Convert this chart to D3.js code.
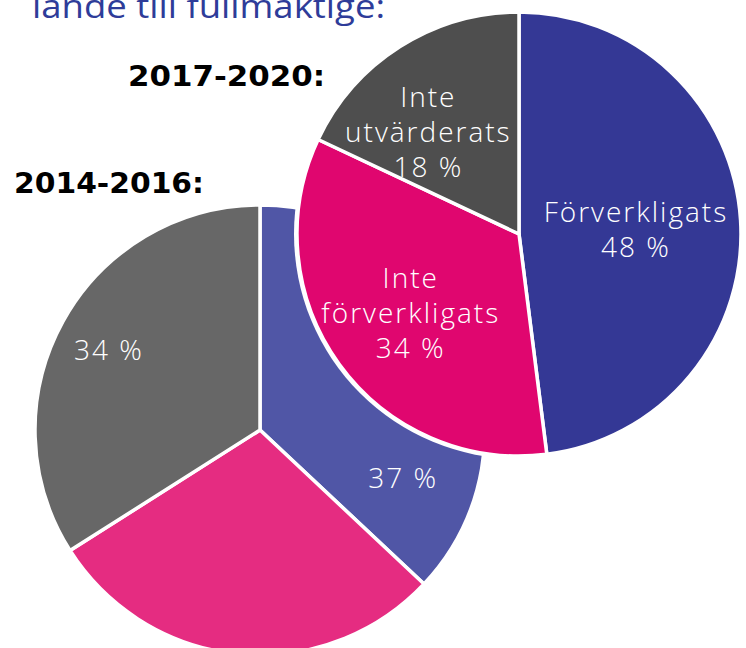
<!DOCTYPE html>
<html>
<head>
<meta charset="utf-8">
<script src="https://cdn.jsdelivr.net/npm/d3@7"></script>
<style>
  body { margin: 0; background: #fff; }
  svg { display: block; }
  text { font-family: "Open Sans", "Noto Sans", sans-serif; }
</style>
</head>
<body>
<svg id="chart"></svg>
<script>
// Data
var categories = ["Förverkligats", "Inte förverkligats", "Inte utvärderats"]
var values2014 = [37, 29, 34]
var values2017 = [48, 34, 18]
// which slices carry a label (2014-2016 only shows the percentages of two slices)
var labels2014 = [["37 %"], [], ["34 %"]]
var labels2017 = [["Förverkligats", "48 %"], ["Inte", "förverkligats", "34 %"], ["Inte", "utvärderats", "18 %"]]

var width = 746
var height = 648

var colors2014 = ["#5056a6", "#e52c81", "#676767"]
var colors2017 = ["#343895", "#e0066f", "#4e4e4e"]

// label spot per slice: [angle in degrees clockwise from top, distance from centre]
var spots2014 = [[108.7, 150], [187, 160], [297.8, 172]]
var spots2017 = [[88, 116], [234, 135], [318, 137]]

var svg = d3.select("#chart").attr("width", width).attr("height", height)

var pie = d3.pie().sort(null).value(d => d)

function drawPie(values, colors, labels, spots, cx, cy, r, ring) {
  var g = svg.append("g").attr("transform", `translate(${cx},${cy})`)
  var arc = d3.arc().innerRadius(0).outerRadius(r)

  if (ring) {
    g.append("circle").attr("r", r + 3).attr("fill", "#fff")
  }

  g.selectAll("path")
    .data(pie(values))
    .enter().append("path")
    .attr("d", arc)
    .attr("fill", (d, i) => colors[i])
    .attr("stroke", "#fff")
    .attr("stroke-width", 3.5)
    .attr("stroke-linejoin", "round")

  var lineH = 35
  g.selectAll(".lbl")
    .data(labels)
    .enter().append("text")
    .attr("class", "lbl")
    .attr("transform", (d, i) => {
      var p = d3.pointRadial(spots[i][0] * Math.PI / 180, spots[i][1])
      return `translate(${p[0] + 1},${p[1]})`
    })
    .attr("text-anchor", "middle")
    .attr("fill", "#fff")
    .attr("font-size", "28px")
    .attr("font-weight", 300)
    .attr("letter-spacing", "2px")
    .each(function(lines) {
      var t = d3.select(this)
      var y0 = -(lines.length - 1) * lineH / 2 + 10
      lines.forEach((s, k) => {
        t.append("tspan").attr("x", 0).attr("y", y0 + k * lineH).text(s)
      })
    })
}

drawPie(values2014, colors2014, labels2014, spots2014, 260, 430, 225, false)
drawPie(values2017, colors2017, labels2017, spots2017, 519, 234, 222, true)

// title (cut off at the top in the source)
svg.append("text")
  .attr("x", 32).attr("y", 17.5)
  .attr("fill", "#2e3c99")
  .attr("font-size", "32px")
  .attr("textLength", 353)
  .attr("lengthAdjust", "spacingAndGlyphs")
  .text("lande till fullmaktige:")

svg.append("text")
  .attr("x", 128).attr("y", 86)
  .attr("fill", "#000")
  .style("font-family", "'DejaVu Sans', sans-serif")
  .attr("font-size", "29px")
  .attr("font-weight", "bold")
  .attr("textLength", 197)
  .attr("lengthAdjust", "spacingAndGlyphs")
  .text("2017-2020:")

svg.append("text")
  .attr("x", 14).attr("y", 193)
  .attr("fill", "#000")
  .style("font-family", "'DejaVu Sans', sans-serif")
  .attr("font-size", "29px")
  .attr("font-weight", "bold")
  .attr("textLength", 190)
  .attr("lengthAdjust", "spacingAndGlyphs")
  .text("2014-2016:")
</script>
</body>
</html>
